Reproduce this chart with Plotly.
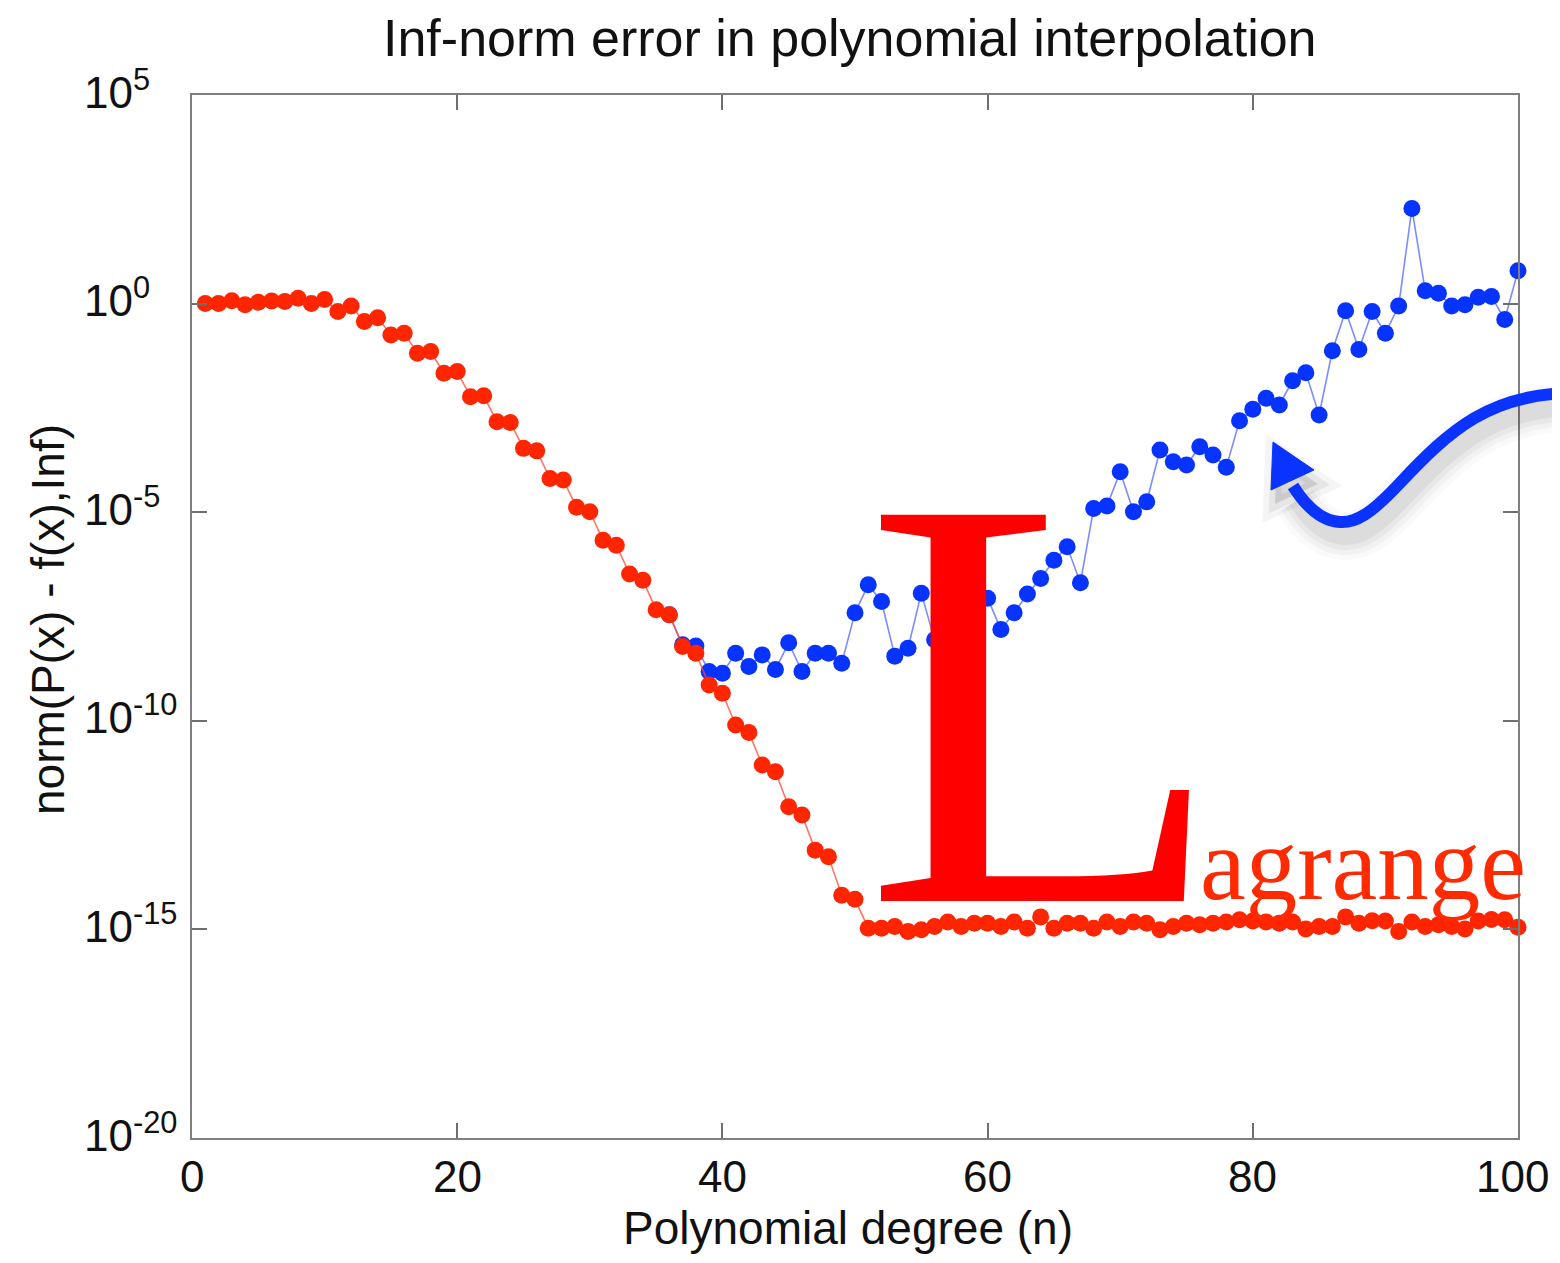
import plotly.graph_objects as go

# ---------------- data (log10 of the inf-norm error) ----------------
red_n = list(range(1, 101))
red_log10 = [
    0.00, 0.00, 0.07, -0.03, 0.03, 0.06, 0.05, 0.13, 0.00, 0.10,
    -0.19, -0.06, -0.43, -0.34, -0.75, -0.71, -1.19, -1.15, -1.67, -1.63,
    -2.23, -2.21, -2.83, -2.85, -3.47, -3.53, -4.19, -4.23, -4.88, -4.99,
    -5.67, -5.79, -6.48, -6.63, -7.34, -7.46, -8.22, -8.38, -9.14, -9.34,
    -10.10, -10.28, -11.06, -11.22, -12.06, -12.26, -13.10, -13.26, -14.18, -14.28,
    -14.97, -14.97, -14.93, -15.05, -15.01, -14.93, -14.82, -14.93, -14.85, -14.85,
    -14.93, -14.82, -14.97, -14.70, -14.97, -14.85, -14.85, -14.97, -14.82, -14.93,
    -14.82, -14.85, -15.01, -14.93, -14.85, -14.89, -14.85, -14.82, -14.77, -14.80,
    -14.82, -14.85, -14.82, -14.99, -14.93, -14.93, -14.70, -14.85, -14.79, -14.80,
    -15.05, -14.82, -14.93, -14.89, -14.93, -14.99, -14.80, -14.76, -14.77, -14.95,
]

blue_n = list(range(36, 101))
blue_log10 = [
    -7.46, -8.18, -8.21, -8.82, -8.86, -8.38, -8.70, -8.42, -8.77, -8.13,
    -8.82, -8.38, -8.38, -8.62, -7.41, -6.74, -7.14, -8.45, -8.26, -6.94,
    -8.06, -7.60, -7.20, -7.00, -7.06, -7.81, -7.41, -6.96, -6.59, -6.15,
    -5.83, -6.69, -4.91, -4.85, -4.03, -4.99, -4.75, -3.51, -3.79, -3.87,
    -3.43, -3.63, -3.92, -2.81, -2.53, -2.27, -2.43, -1.85, -1.66, -2.67,
    -1.13, -0.17, -1.10, -0.19, -0.71, -0.06, 2.28, 0.31, 0.25, -0.06,
    -0.03, 0.15, 0.17, -0.38, 0.79,
]

x_ticks = [0, 20, 40, 60, 80, 100]
y_tick_exps = [-20, -15, -10, -5, 0, 5]

red_vals = [10 ** v for v in red_log10]
blue_vals = [10 ** v for v in blue_log10]

# ---------------- geometry (screen pixels; page body has an 8px margin) ----------------
BODY = 8
W, H = 1560 - 2 * BODY, 1263 - 2 * BODY
L_PX, R_PX, T_PX, B_PX = 192, 1518, 95, 1138   # plot frame on screen


def px(xp):
    return (xp - L_PX) / (R_PX - L_PX)


def py(yp):
    return (B_PX - yp) / (B_PX - T_PX)


def path(cmds, dx=0, dy=0):
    out = []
    for c in cmds:
        if isinstance(c, str):
            out.append(c)
        else:
            out.append(f"{px(c[0] + dx):.5f},{py(c[1] + dy):.5f}")
    return " ".join(out)


fig = go.Figure()

fig.add_trace(go.Scatter(
    x=blue_n, y=blue_vals, mode="lines+markers",
    line=dict(color="rgba(80,100,255,0.75)", width=1.6),
    marker=dict(color="#0633ff", size=17, line=dict(width=0)),
    cliponaxis=False, showlegend=False,
))
fig.add_trace(go.Scatter(
    x=red_n, y=red_vals, mode="lines+markers",
    line=dict(color="rgba(255,70,50,0.75)", width=1.6),
    marker=dict(color="#ff2500", size=17, line=dict(width=0)),
    cliponaxis=False, showlegend=False,
))

sans = "Liberation Sans, Arial, sans-serif"
serif = "Liberation Serif, Times New Roman, serif"
tick_font = dict(family=sans, size=44, color="#111111")

axis_common = dict(
    showline=True, linecolor="#7f7f7f", linewidth=2,
    mirror="ticks", ticks="inside", ticklen=15, tickwidth=1.6,
    tickcolor="#6f6f6f", showgrid=False, zeroline=False,
)

fig.update_xaxes(range=[0, 100], tickvals=x_ticks, showticklabels=False, **axis_common)
fig.update_yaxes(type="log", range=[-20, 5],
                 tickvals=[10.0 ** e for e in y_tick_exps],
                 showticklabels=False, **axis_common)

annotations = [
    dict(text="Inf-norm error in polynomial interpolation", x=px(850), y=py(38),
         xref="paper", yref="paper", showarrow=False, xanchor="center", yanchor="middle",
         font=dict(family=sans, size=52, color="#111111")),
    dict(text="Polynomial degree (n)", x=px(848), y=py(1228),
         xref="paper", yref="paper", showarrow=False, xanchor="center", yanchor="middle",
         font=dict(family=sans, size=46, color="#111111")),
    dict(text="norm(P(x) - f(x),Inf)", x=px(48), y=py(620), textangle=-90,
         xref="paper", yref="paper", showarrow=False, xanchor="center", yanchor="middle",
         font=dict(family=sans, size=46, color="#111111")),
    dict(text="L", x=px(862), y=py(903 + 0.216 * 590 + 1),
         xref="paper", yref="paper", showarrow=False, xanchor="left", yanchor="bottom",
         font=dict(family=serif, size=590, color="#ff0000")),
    dict(text="agrange", x=px(1198), y=py(900 + 0.216 * 103 + 1),
         xref="paper", yref="paper", showarrow=False, xanchor="left", yanchor="bottom",
         font=dict(family=serif, size=103, color="#ff2a00")),
]

# x tick labels (kept inside the page: the last one is right-aligned to the page edge)
for v in x_ticks:
    last = v == x_ticks[-1]
    annotations.append(dict(
        text=str(v), x=v, y=py(1176), xref="x", yref="paper", showarrow=False,
        xanchor="right" if last else "center", xshift=33 if last else 0,
        yanchor="middle", font=tick_font))

# y tick labels in MATLAB style (base "10" left aligned, exponent raised)
for e in y_tick_exps:
    annotations.append(dict(
        text=f"10<sup>{e}</sup>", x=px(82), y=e, xref="paper", yref="y",
        showarrow=False, xanchor="left", yanchor="middle", yshift=6,
        font=tick_font))

# curved arrow (decoration) with soft shadow
curve = ["M", (1575, 393), "C", (1490, 393), (1450, 430), (1400, 483),
         "C", (1370, 515), (1355, 523), (1340, 522),
         "C", (1320, 521), (1305, 505), (1293, 486)]
head = ["M", (1273, 442), "L", (1271, 490), "L", (1314, 470), "Z"]

shapes = []
for wdt, op in [(48, 0.02), (38, 0.03), (28, 0.04), (18, 0.05)]:
    shapes.append(dict(type="path", xref="paper", yref="paper", layer="above",
                       path=path(curve, 4, 14),
                       line=dict(color=f"rgba(0,0,0,{op})", width=wdt)))
for wdt, op in [(24, 0.04), (12, 0.06)]:
    shapes.append(dict(type="path", xref="paper", yref="paper", layer="above",
                       path=path(head, 4, 14), fillcolor="rgba(0,0,0,0.06)",
                       line=dict(color=f"rgba(0,0,0,{op})", width=wdt)))
shapes.append(dict(type="path", xref="paper", yref="paper", layer="above",
                   path=path(curve), line=dict(color="#0a33ff", width=12)))
shapes.append(dict(type="path", xref="paper", yref="paper", layer="above",
                   path=path(head), fillcolor="#0a33ff",
                   line=dict(color="#0a33ff", width=1)))

fig.update_layout(
    width=W, height=H, autosize=False,
    margin=dict(l=L_PX - BODY, r=(W + BODY) - R_PX, t=T_PX - BODY, b=(H + BODY) - B_PX, pad=0),
    paper_bgcolor="white", plot_bgcolor="white",
    annotations=annotations, shapes=shapes, showlegend=False,
)

fig.write_html("out.html")
